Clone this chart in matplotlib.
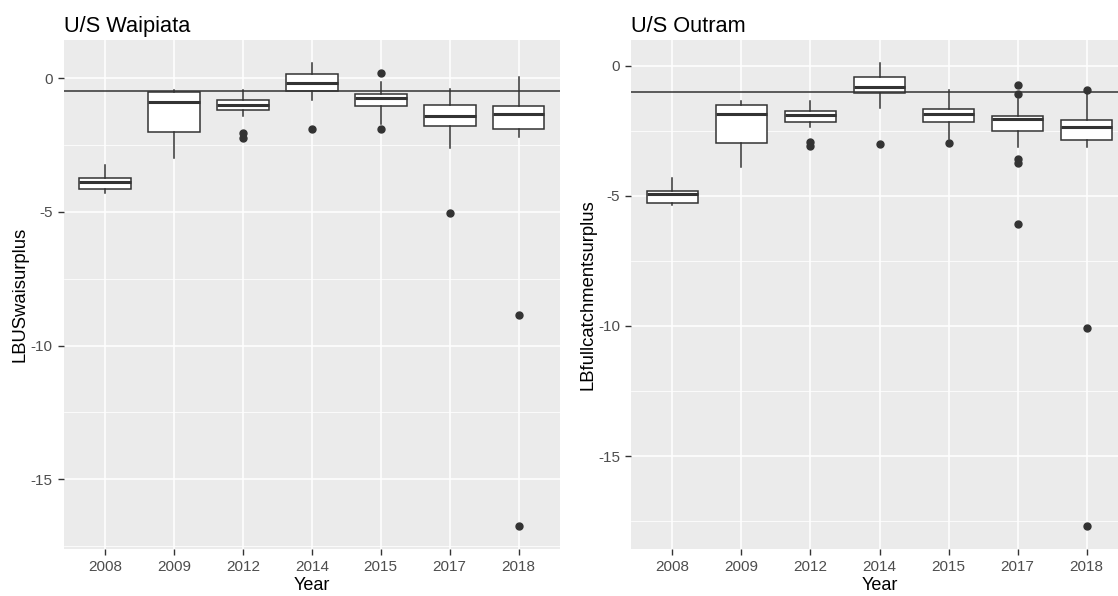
import matplotlib
matplotlib.use('Agg')
import matplotlib.pyplot as plt
from matplotlib.ticker import MultipleLocator

plt.rcParams['font.family'] = ['Liberation Sans', 'DejaVu Sans']

years = ['2008', '2009', '2012', '2014', '2015', '2017', '2018']

# U/S Waipiata surplus
wai_whislo = [-4.28, -2.97, -1.43, -0.83, -1.70, -2.60, -2.19]
wai_q1 = [-4.15, -2.01, -1.19, -0.50, -1.05, -1.78, -1.91]
wai_med = [-3.88, -0.88, -1.02, -0.20, -0.74, -1.43, -1.34]
wai_q3 = [-3.72, -0.52, -0.82, 0.15, -0.59, -1.00, -1.05]
wai_whishi = [-3.26, -0.46, -0.45, 0.56, -0.16, -0.41, 0.06]
wai_fliers = [[], [], [-2.05, -2.25], [-1.91], [0.19, -1.91], [-5.04], [-8.86, -16.74]]
wai_target = -0.5

# U/S Outram surplus
out_whislo = [-5.35, -3.90, -2.37, -1.62, -2.83, -3.11, -3.11]
out_q1 = [-5.26, -2.96, -2.15, -1.03, -2.15, -2.49, -2.86]
out_med = [-4.92, -1.85, -1.90, -0.83, -1.84, -2.04, -2.37]
out_q3 = [-4.80, -1.50, -1.73, -0.43, -1.65, -1.93, -2.10]
out_whishi = [-4.30, -1.35, -1.35, 0.10, -0.94, -1.28, -1.02]
out_fliers = [[], [], [-2.93, -3.09], [-3.00], [-2.96],
              [-0.75, -1.07, -3.60, -3.72, -6.08], [-0.94, -10.07, -17.68]]
out_target = -1.0

DARK = '#333333'


def panel(ax, title, ylabel, whislo, q1, med, q3, whishi, fliers, target):
    stats = []
    for i in range(len(years)):
        stats.append({'whislo': whislo[i], 'q1': q1[i], 'med': med[i], 'q3': q3[i],
                      'whishi': whishi[i], 'fliers': fliers[i], 'label': years[i]})
    pos = list(range(1, len(years) + 1))
    ax.bxp(stats, positions=pos, widths=0.75, patch_artist=True, showcaps=False,
           boxprops=dict(facecolor='white', edgecolor=DARK, linewidth=1.1),
           whiskerprops=dict(color=DARK, linewidth=1.1),
           medianprops=dict(color=DARK, linewidth=2.2),
           flierprops=dict(marker='o', markerfacecolor=DARK, markeredgecolor=DARK,
                           markersize=5, linestyle='none'),
           zorder=3)
    ax.axhline(target, color=DARK, linewidth=1.1, zorder=4)

    # ggplot-style 5% padding around the data range
    allvals = whislo + whishi + [v for f in fliers for v in f]
    lo, hi = min(allvals), max(allvals)
    pad = (hi - lo) * 0.05
    ax.set_ylim(lo - pad, hi + pad)
    ax.set_xlim(0.4, len(years) + 0.6)

    ax.set_facecolor('#EBEBEB')
    for s in ax.spines.values():
        s.set_visible(False)
    ax.yaxis.set_major_locator(MultipleLocator(5))
    ax.yaxis.set_minor_locator(MultipleLocator(2.5))
    ax.grid(which='major', color='white', linewidth=1.1, zorder=0)
    ax.grid(which='minor', axis='y', color='white', linewidth=0.55, zorder=0)
    ax.set_axisbelow(True)
    ax.tick_params(which='major', color=DARK, length=4, width=1, labelcolor='#4D4D4D',
                   labelsize=11, pad=4)
    ax.tick_params(which='minor', length=0)
    ax.set_xticks(pos)
    ax.set_xticklabels(years)
    ax.set_yticklabels(['%g' % v for v in ax.get_yticks()])
    ax.set_xlabel('Year', fontsize=13, color='black', labelpad=2)
    ax.set_ylabel(ylabel, fontsize=13.3, color='black', labelpad=1)
    ax.set_title(title, loc='left', fontsize=15.7, pad=6)


fig = plt.figure(figsize=(11.18, 5.96), dpi=100)
ax1 = fig.add_axes([63.5 / 1118, 1 - 549 / 596, (560 - 63.5) / 1118, 509 / 596])
ax2 = fig.add_axes([631 / 1118, 1 - 549 / 596, (1128 - 631) / 1118, 509 / 596])

panel(ax1, 'U/S Waipiata', 'LBUSwaisurplus',
      wai_whislo, wai_q1, wai_med, wai_q3, wai_whishi, wai_fliers, wai_target)
panel(ax2, 'U/S Outram', 'LBfullcatchmentsurplus',
      out_whislo, out_q1, out_med, out_q3, out_whishi, out_fliers, out_target)

fig.savefig('out.png', dpi=100, facecolor='white')
